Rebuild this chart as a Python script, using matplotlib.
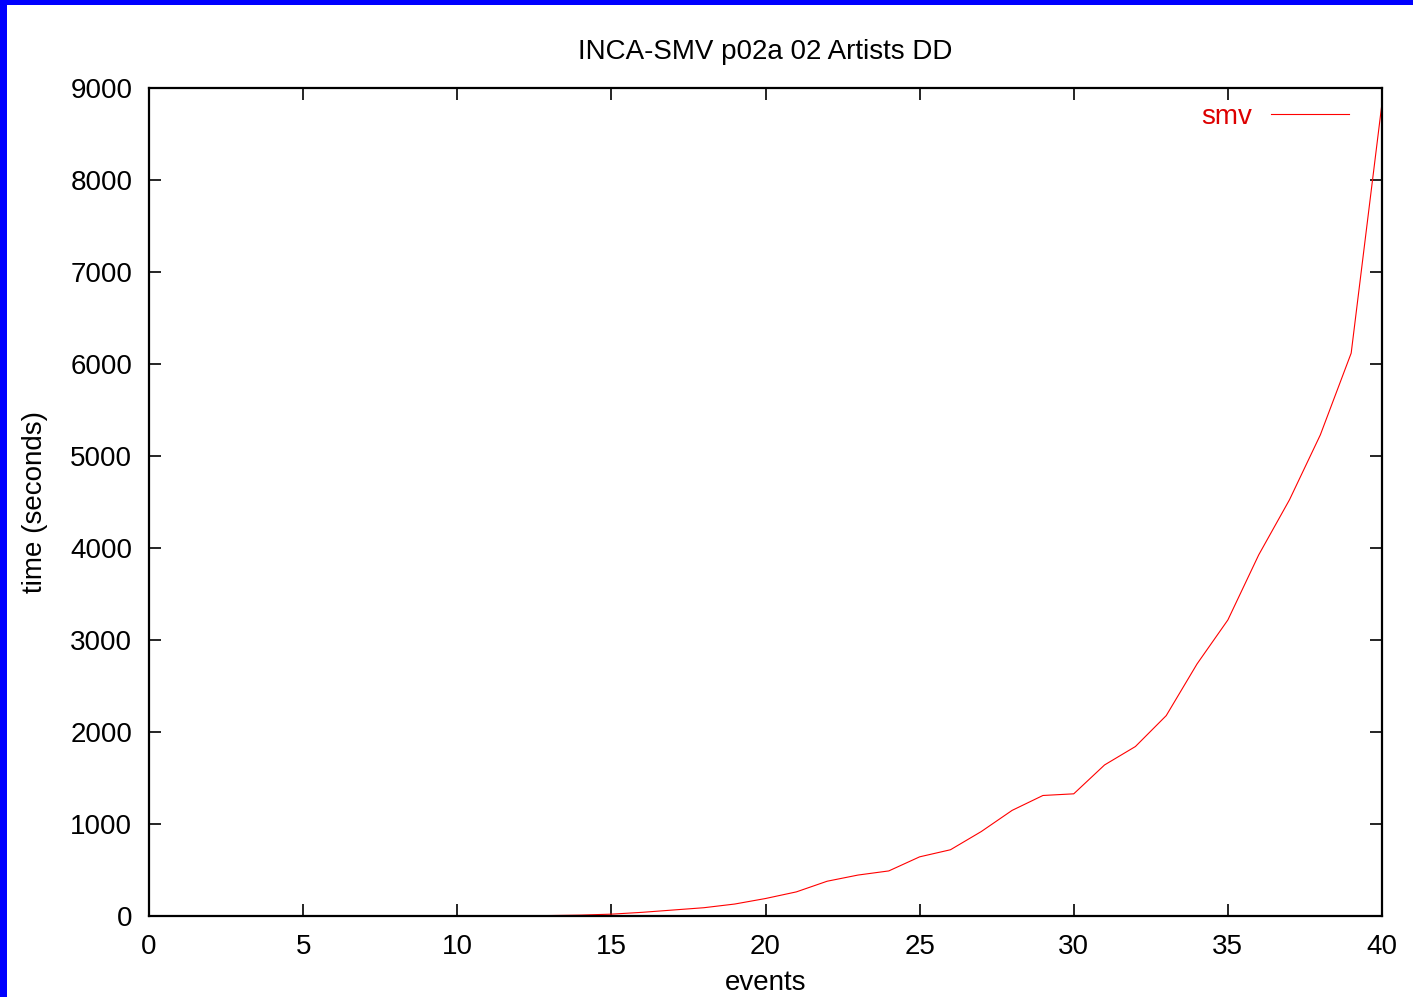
import matplotlib
matplotlib.use("Agg")
import matplotlib.pyplot as plt
from matplotlib.patches import Rectangle

# events vs time (seconds)
events = [2, 3, 4, 5, 6, 7, 8, 9, 10, 11, 12, 13, 14, 15, 16, 17, 18, 19, 20,
          21, 22, 23, 24, 25, 26, 27, 28, 29, 30, 31, 32, 33, 34, 35, 36, 37,
          38, 39, 40]
smv_time = [0, 0, 0, 0, 0, 0, 0, 0, 1, 2, 3, 5, 10, 20, 40, 65, 90, 130, 190,
            262, 378, 445, 490, 643, 720, 918, 1148, 1310, 1328, 1642, 1842,
            2178, 2740, 3218, 3925, 4525, 5230, 6118, 8835]

x_ticks = [0, 5, 10, 15, 20, 25, 30, 35, 40]
y_ticks = [0, 1000, 2000, 3000, 4000, 5000, 6000, 7000, 8000, 9000]

plt.rcParams['font.family'] = ['Liberation Sans', 'DejaVu Sans']
plt.rcParams['font.size'] = 20

fig = plt.figure(figsize=(14.13, 9.97), dpi=100)
fig.patch.set_facecolor('white')

# blue frame strips on left and top of the window capture
fig.patches.append(Rectangle((0, 0), 7 / 1413, 1, transform=fig.transFigure,
                             facecolor='#0000ff', edgecolor='none'))
fig.patches.append(Rectangle((0, 1 - 5 / 997), 1, 5 / 997, transform=fig.transFigure,
                             facecolor='#0000ff', edgecolor='none'))

ax = fig.add_axes([149 / 1413, 81 / 997, (1382 - 149) / 1413, (916 - 88) / 997])
ax.plot(events, smv_time, color='#ff0000', linewidth=0.8, label='smv')

ax.set_xlim(0, 40)
ax.set_ylim(0, 9000)
ax.set_xticks(x_ticks)
ax.set_yticks(y_ticks)

for s in ax.spines.values():
    s.set_linewidth(1.6)
ax.tick_params(direction='in', length=8.5, width=1.2, top=True, right=True)
ax.tick_params(axis='x', pad=13)
ax.tick_params(axis='y', pad=12)

ax.set_title('INCA-SMV p02a 02 Artists DD', fontsize=20, pad=21)
ax.set_xlabel('events', labelpad=7)
ax.set_ylabel('time (seconds)', labelpad=16)

leg = ax.legend(loc='upper right', bbox_to_anchor=(0.9732, 0.981),
                markerfirst=False, frameon=False, labelcolor='#dd0000',
                handlelength=2.8, handletextpad=0.68, borderpad=0,
                borderaxespad=0)

fig.savefig('out.png', dpi=100)
